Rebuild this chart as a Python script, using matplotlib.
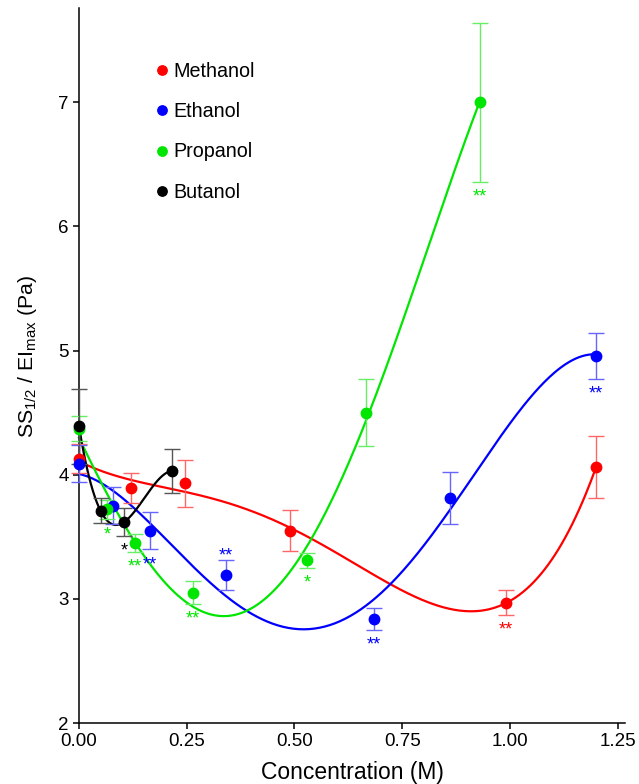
import numpy as np
import matplotlib
matplotlib.use("Agg")
import matplotlib.pyplot as plt

plt.rcParams["font.family"] = ["Liberation Sans", "DejaVu Sans"]
plt.rcParams["mathtext.fontset"] = "custom"
plt.rcParams["mathtext.rm"] = "Liberation Sans"
plt.rcParams["mathtext.it"] = "Liberation Sans"

# values
methanol_x = [0.0, 0.12, 0.245, 0.49, 0.99, 1.2]
methanol_y = [4.13, 3.89, 3.93, 3.55, 2.97, 4.06]
methanol_err = [0.12, 0.12, 0.19, 0.165, 0.10, 0.25]
methanol_stars = ["", "", "", "", "**", ""]

ethanol_x = [0.0, 0.08, 0.165, 0.34, 0.685, 0.86, 1.2]
ethanol_y = [4.09, 3.75, 3.55, 3.19, 2.84, 3.81, 4.96]
ethanol_err = [0.15, 0.15, 0.15, 0.12, 0.09, 0.21, 0.185]
ethanol_stars = ["", "", "**", "^**", "**", "", "**"]

propanol_x = [0.0, 0.065, 0.13, 0.265, 0.53, 0.665, 0.93]
propanol_y = [4.37, 3.72, 3.45, 3.05, 3.31, 4.50, 7.0]
propanol_err = [0.10, 0.08, 0.07, 0.09, 0.06, 0.27, 0.64]
propanol_stars = ["", "*", "**", "**", "*", "", "**"]

butanol_x = [0.0, 0.05, 0.105, 0.215]
butanol_y = [4.39, 3.71, 3.62, 4.03]
butanol_err = [0.30, 0.10, 0.11, 0.18]
butanol_stars = ["", "", "*", ""]

series = [
    ("Methanol", methanol_x, methanol_y, methanol_err, methanol_stars, "#ff0000", "#ff6666", 4),
    ("Ethanol", ethanol_x, ethanol_y, ethanol_err, ethanol_stars, "#0000ff", "#6666ff", 4),
    ("Propanol", propanol_x, propanol_y, propanol_err, propanol_stars, "#00e600", "#66ee66", 4),
    ("Butanol", butanol_x, butanol_y, butanol_err, butanol_stars, "#000000", "#555555", 3),
]

fig = plt.figure(figsize=(6.39, 7.84), dpi=100)
ax = fig.add_axes([0.1236, 0.0778, 0.8545, 0.912])

for name, xs, ys, errs, stars, col, ecol, deg in series:
    coef = np.polyfit(xs, ys, deg)
    xx = np.linspace(min(xs), max(xs), 300)
    ax.plot(xx, np.polyval(coef, xx), color=col, lw=1.6, zorder=2, clip_on=False)
    ax.errorbar(xs, ys, yerr=errs, fmt="none", ecolor=ecol, elinewidth=1.0,
                capsize=5.5, capthick=1.0, zorder=3, clip_on=False)
    ax.plot(xs, ys, "o", color=col, ms=7.5, zorder=4, clip_on=False,
            label=name)
    for x, y, e, s in zip(xs, ys, errs, stars):
        if not s:
            continue
        if s.startswith("^"):
            ax.annotate(s[1:], (x, y + e), xytext=(0, -3), textcoords="offset points",
                        ha="center", va="bottom", color=col, fontsize=13)
        else:
            ax.annotate(s, (x, y - e), xytext=(0, -5), textcoords="offset points",
                        ha="center", va="top", color=col, fontsize=13)

ax.set_xlim(0, 1.267)
ax.set_ylim(2, 7.76)
ax.set_xticks([0, 0.25, 0.5, 0.75, 1.0, 1.25])
ax.set_xticklabels(["0.00", "0.25", "0.50", "0.75", "1.00", "1.25"])
ax.set_yticks([2, 3, 4, 5, 6, 7])
ax.tick_params(labelsize=13.5, width=1.1, length=4, direction="out")

for side in ["top", "right"]:
    ax.spines[side].set_visible(False)
for side in ["left", "bottom"]:
    ax.spines[side].set_linewidth(1.1)

ax.set_xlabel("Concentration (M)", fontsize=16.5, labelpad=7.5)
ax.set_ylabel("SS$_{1/2}$ / EI$_{max}$ (Pa)", fontsize=15.3)
ax.yaxis.set_label_coords(-0.073, 0.512)

ax.legend(loc="upper left", bbox_to_anchor=(0.093, 0.949), frameon=False,
          fontsize=14.2, handletextpad=-0.2, labelspacing=1.07, handlelength=1.5,
          markerscale=0.9)

fig.savefig("out.png", dpi=100)
